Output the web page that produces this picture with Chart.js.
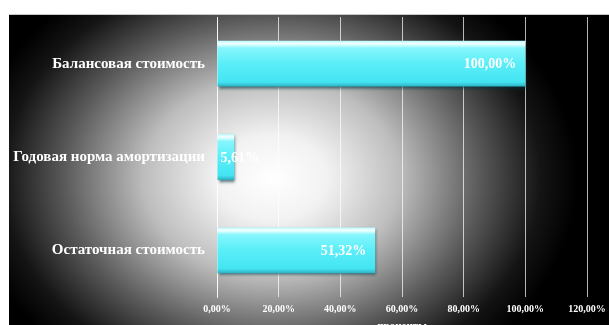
<!DOCTYPE html>
<html lang="ru">
<head>
<meta charset="utf-8">
<title>Стоимость основных средств</title>
<script src="https://cdn.jsdelivr.net/npm/chart.js@4.4.1/dist/chart.umd.min.js"></script>
<style>
    html, body { margin: 0; padding: 0; background: #fff; overflow: hidden; }
    #wrap { position: relative; width: 609px; height: 335px; }
</style>
</head>
<body>
<div id="wrap"><canvas id="costChart"></canvas></div>
<script>
// Chart data
const categories = ['Балансовая стоимость', 'Годовая норма амортизации', 'Остаточная стоимость'];
const shares = [100.00, 5.61, 51.32];
const shareLabels = ['100,00%', '5,61%', '51,32%'];
const tickLabels = ['0,00%', '20,00%', '40,00%', '60,00%', '80,00%', '100,00%', '120,00%'];
const axisTitle = 'проценты';

const serif = '"Liberation Serif", "Times New Roman", serif';

// Dark backdrop with a bright spot in the middle, white strip on top and left
const backdrop = {
    id: 'backdrop',
    beforeDraw(chart) {
        const ctx = chart.ctx;
        ctx.save();
        ctx.fillStyle = '#ffffff';
        ctx.fillRect(0, 0, chart.width, chart.height);
        ctx.fillStyle = '#c8c8c8';
        ctx.fillRect(9, 14, chart.width - 9, 1);

        const cx = 272, cy = 178, sx = 1.3;
        ctx.translate(cx, cy);
        ctx.scale(sx, 1);
        const g = ctx.createRadialGradient(0, 0, 0, 0, 0, 235);
        g.addColorStop(0, '#ffffff');
        g.addColorStop(0.18, '#f2f2f2');
        g.addColorStop(0.42, '#bdbdbd');
        g.addColorStop(0.68, '#5a5a5a');
        g.addColorStop(0.88, '#141414');
        g.addColorStop(1, '#000000');
        ctx.fillStyle = g;
        ctx.fillRect((9 - cx) / sx, 15 - cy, (chart.width - 9) / sx, chart.height);
        ctx.restore();
    }
};

// Soft shadow under the bars
const barShadow = {
    id: 'barShadow',
    beforeDatasetsDraw(chart) {
        const ctx = chart.ctx;
        ctx.save();
        ctx.shadowColor = 'rgba(0, 50, 60, 0.7)';
        ctx.shadowBlur = 3;
        ctx.shadowOffsetX = 1;
        ctx.shadowOffsetY = 2;
    },
    afterDatasetsDraw(chart) {
        chart.ctx.restore();
    }
};

// Value labels placed at the inner end of each bar
const valueLabels = {
    id: 'valueLabels',
    afterDatasetsDraw(chart) {
        const ctx = chart.ctx;
        const meta = chart.getDatasetMeta(0);
        ctx.save();
        ctx.font = 'bold 14px ' + serif;
        ctx.fillStyle = '#ffffff';
        ctx.textBaseline = 'middle';
        ctx.textAlign = 'left';
        meta.data.forEach((bar, i) => {
            const text = shareLabels[i];
            const w = ctx.measureText(text).width;
            const x = Math.max(bar.x - 9 - w, bar.base + 3);
            ctx.fillText(text, x, bar.y + 1);
        });
        ctx.restore();
    }
};

function barFill(context) {
    const chart = context.chart;
    const yScale = chart.scales.y;
    const cy = yScale ? yScale.getPixelForValue(context.dataIndex) : NaN;
    if (!isFinite(cy)) return '#55eef8';
    const half = 23;
    const g = chart.ctx.createLinearGradient(0, cy - half, 0, cy + half);
    g.addColorStop(0, '#b8fbff');
    g.addColorStop(0.07, '#f2ffff');
    g.addColorStop(0.16, '#86f6fc');
    g.addColorStop(0.5, '#5aeef8');
    g.addColorStop(0.9, '#44e4f2');
    g.addColorStop(1, '#2bb0c0');
    return g;
}

new Chart(document.getElementById('costChart'), {
    type: 'bar',
    data: {
        labels: categories,
        datasets: [{
            data: shares,
            backgroundColor: barFill,
            borderWidth: 0,
            categoryPercentage: 1,
            barPercentage: 0.49
        }]
    },
    options: {
        indexAxis: 'y',
        responsive: true,
        maintainAspectRatio: false,
        animation: false,
        layout: { padding: { top: 17, right: 22, left: 0, bottom: 0 } },
        plugins: {
            legend: { display: false },
            tooltip: { enabled: false }
        },
        scales: {
            x: {
                min: 0,
                max: 120,
                afterFit(scale) {
                    scale.height = 38;
                    scale.paddingLeft = 0;
                    scale.paddingRight = 0;
                },
                ticks: {
                    stepSize: 20,
                    padding: 6,
                    color: '#ffffff',
                    font: { family: serif, size: 10, weight: 'bold' },
                    maxRotation: 0,
                    callback: (v, i) => tickLabels[i]
                },
                grid: {
                    color: 'rgba(255, 255, 255, 0.7)',
                    lineWidth: 1,
                    drawTicks: false
                },
                border: { display: false },
                title: {
                    display: true,
                    text: axisTitle,
                    color: '#ffffff',
                    font: { family: serif, size: 11, weight: 'bold' },
                    padding: { top: 3, bottom: 2 }
                }
            },
            y: {
                afterFit(scale) {
                    scale.width = 217;
                    scale.paddingTop = 0;
                    scale.paddingBottom = 0;
                },
                ticks: {
                    padding: 12,
                    color: '#ffffff',
                    font: { family: serif, size: 15, weight: 'bold' }
                },
                grid: { display: false, drawTicks: false },
                border: { display: true, color: 'rgba(255, 255, 255, 0.8)' }
            }
        }
    },
    plugins: [backdrop, barShadow, valueLabels]
});
</script>
</body>
</html>
